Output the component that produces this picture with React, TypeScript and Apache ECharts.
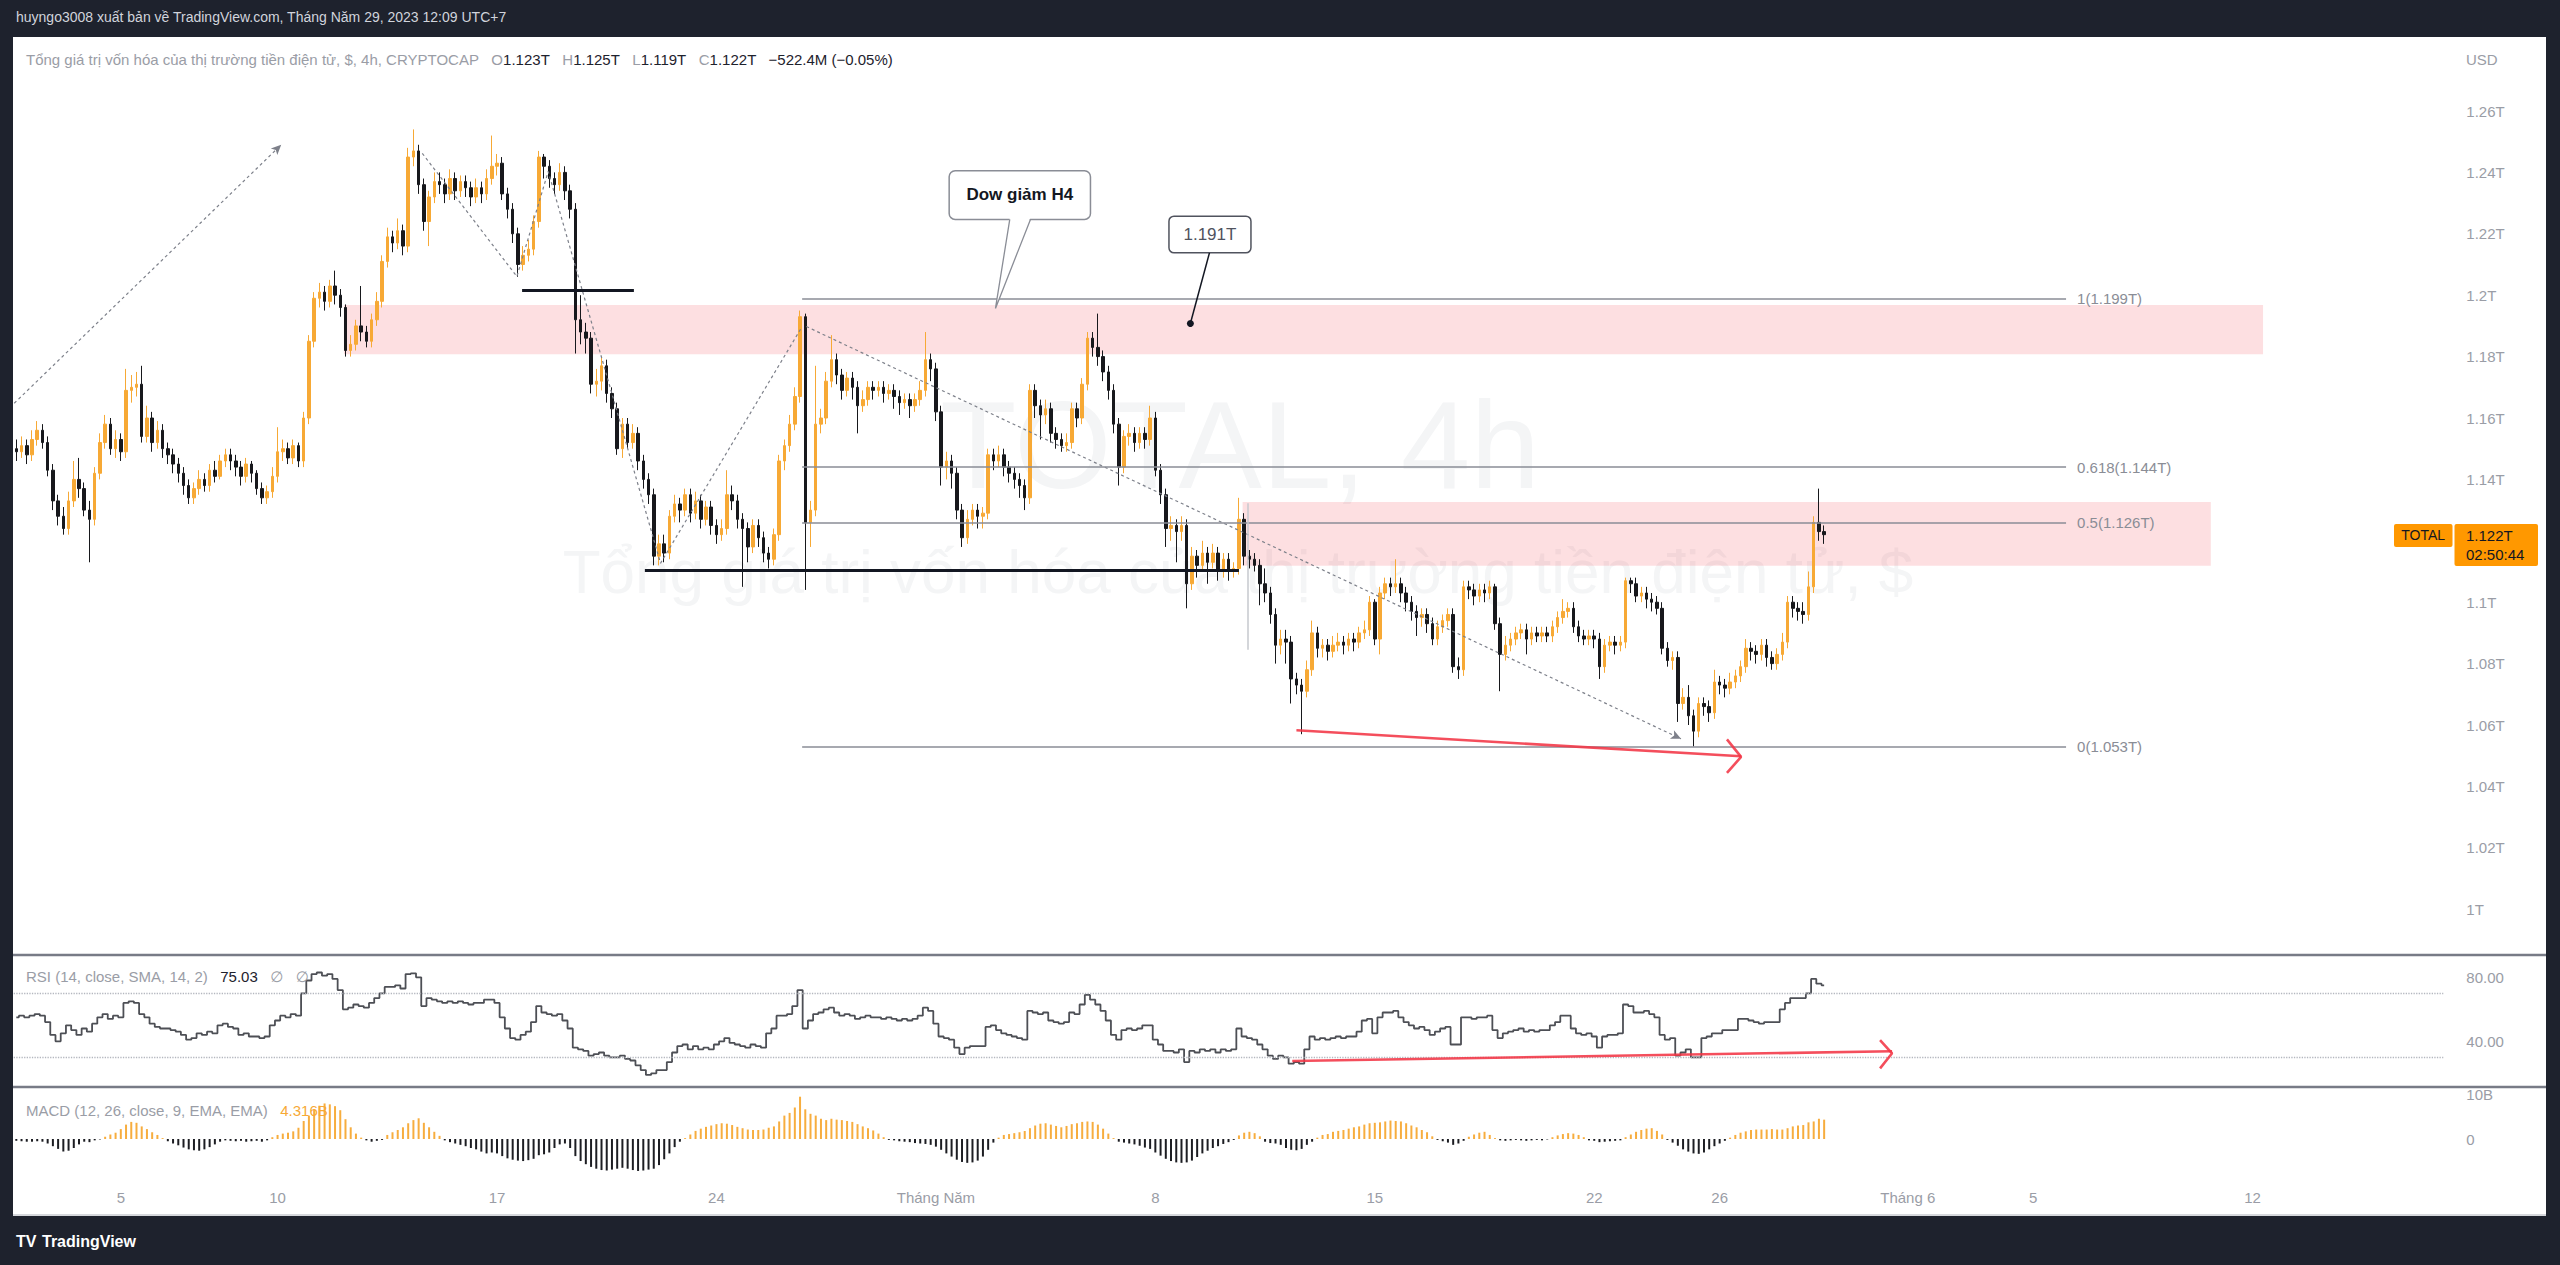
import React, { useEffect, useRef } from "react";
import * as echarts from "echarts";

const FONT = '"Liberation Sans", Arial, "DejaVu Sans", sans-serif';
const UP = "#f7a935";
const DOWN = "#17181c";
const GRAY_TEXT = "#9a9da6";
const DARK_TEXT = "#1e222d";
const FRAME = "#1e222d";

// ---------------- price data (in billions USD), 4h candles from 2023-04-01 16:00 UTC+7
const OPEN_0 = 1150;
const CLOSE = [
  1149,1151,1148,1153,1156,1152,1143,1133,1128,1124,
  1133,1140,1137,1130,1127,1142,1152,1158,1150,1153,
  1149,1169,1170,1171,1154,1160,1152,1156,1150,1148,
  1145,1142,1138,1134,1137,1140,1138,1143,1141,1146,
  1148,1146,1144,1141,1145,1142,1137,1134,1136,1141,
  1149,1150,1147,1151,1146,1160,1185,1199,1201,1198,
  1203,1200,1196,1182,1184,1190,1188,1185,1192,1198,
  1211,1219,1217,1221,1216,1245,1247,1236,1224,1232,
  1237,1236,1233,1238,1234,1237,1235,1232,1235,1233,
  1238,1242,1243,1233,1228,1220,1210,1213,1215,1224,
  1245,1242,1238,1236,1240,1234,1228,1192,1188,1186,
  1171,1172,1177,1168,1163,1150,1158,1152,1155,1146,
  1140,1135,1115,1119,1116,1128,1132,1130,1135,1129,
  1133,1127,1131,1125,1122,1124,1135,1133,1127,1124,
  1118,1125,1121,1116,1114,1122,1146,1151,1158,1167,
  1193,1126,1130,1158,1160,1172,1179,1174,1169,1173,
  1170,1164,1166,1170,1169,1170,1168,1169,1167,1165,
  1166,1164,1166,1169,1179,1176,1162,1144,1146,1142,
  1130,1121,1127,1130,1128,1129,1148,1146,1148,1144,
  1142,1140,1138,1134,1169,1164,1161,1163,1155,1153,
  1151,1152,1163,1160,1171,1186,1183,1180,1175,1169,
  1158,1144,1154,1155,1152,1155,1153,1160,1143,1135,
  1124,1125,1123,1125,1106,1115,1112,1116,1113,1116,
  1110,1114,1110,1111,1127,1115,1114,1112,1106,1103,
  1096,1086,1088,1087,1075,1073,1071,1078,1090,1085,
  1086,1084,1086,1087,1086,1088,1087,1090,1091,1100,
  1088,1103,1106,1105,1106,1103,1100,1097,1095,1096,
  1093,1088,1092,1094,1096,1079,1078,1105,1104,1102,
  1104,1103,1105,1093,1083,1086,1088,1090,1091,1088,
  1090,1089,1090,1089,1092,1095,1097,1098,1092,1089,
  1088,1089,1088,1079,1086,1087,1086,1087,1107,1106,
  1102,1103,1101,1100,1098,1085,1081,1082,1067,1069,
  1063,1058,1067,1066,1064,1074,1073,1072,1074,1076,
  1079,1085,1084,1083,1086,1082,1080,1083,1087,1100,
  1098,1097,1096,1105,1126,1123,1122,
];
const LOW = [
  1146,1147,1145,1146,1151,1150,1141,1130,1125,1122,
  1122,1131,1134,1128,1113,1125,1140,1150,1148,1147,
  1146,1147,1165,1167,1152,1152,1149,1150,1147,1145,
  1142,1139,1135,1132,1132,1135,1136,1136,1139,1140,
  1144,1143,1141,1138,1139,1139,1135,1132,1132,1134,
  1139,1146,1145,1145,1144,1144,1158,1183,1196,1195,
  1196,1197,1193,1180,1180,1182,1185,1183,1183,1190,
  1196,1209,1214,1215,1213,1214,1242,1233,1221,1216,
  1230,1233,1230,1231,1231,1232,1232,1229,1230,1230,
  1231,1236,1239,1231,1225,1217,1206,1208,1211,1213,
  1222,1238,1235,1233,1234,1231,1225,1181,1184,1181,
  1168,1167,1169,1165,1160,1148,1147,1150,1150,1143,
  1137,1132,1112,1112,1113,1114,1126,1126,1128,1126,
  1127,1124,1125,1122,1119,1120,1122,1130,1124,1105,
  1113,1116,1118,1113,1111,1112,1120,1143,1149,1156,
  1165,1104,1118,1128,1155,1158,1170,1171,1166,1167,
  1166,1155,1162,1164,1166,1167,1165,1166,1163,1161,
  1163,1160,1162,1164,1167,1172,1159,1138,1140,1137,
  1127,1118,1119,1125,1124,1124,1127,1143,1144,1141,
  1139,1137,1134,1130,1132,1160,1153,1158,1152,1150,
  1149,1149,1150,1157,1158,1169,1180,1177,1172,1166,
  1155,1138,1142,1151,1149,1150,1150,1151,1141,1132,
  1118,1120,1113,1120,1098,1104,1108,1110,1106,1111,
  1107,1108,1107,1108,1109,1112,1111,1110,1099,1100,
  1093,1080,1083,1080,1067,1070,1057,1069,1076,1082,
  1082,1081,1082,1084,1083,1084,1084,1085,1088,1089,
  1086,1083,1101,1102,1103,1100,1097,1094,1089,1092,
  1090,1086,1086,1090,1092,1077,1075,1076,1101,1099,
  1100,1100,1101,1091,1071,1081,1084,1086,1088,1083,
  1086,1087,1087,1087,1087,1090,1093,1095,1090,1087,
  1086,1086,1085,1075,1077,1084,1083,1084,1085,1103,
  1100,1100,1098,1097,1096,1083,1079,1078,1061,1065,
  1060,1053,1056,1063,1061,1062,1070,1069,1070,1072,
  1074,1077,1081,1080,1081,1079,1078,1078,1081,1085,
  1095,1094,1093,1094,1103,1120,1119,
];
const HIGH = [
  1153,1154,1153,1156,1159,1158,1154,1145,1135,1131,
  1136,1146,1147,1139,1133,1144,1155,1161,1160,1156,
  1155,1176,1174,1175,1177,1164,1162,1159,1158,1152,
  1150,1147,1144,1140,1139,1143,1142,1145,1146,1148,
  1150,1150,1148,1146,1147,1146,1143,1139,1138,1144,
  1157,1153,1152,1153,1152,1162,1187,1201,1204,1203,
  1205,1208,1202,1197,1187,1192,1203,1190,1194,1201,
  1213,1222,1221,1225,1223,1248,1254,1249,1238,1234,
  1240,1240,1238,1241,1240,1239,1239,1237,1238,1237,
  1241,1252,1246,1245,1235,1230,1222,1216,1218,1226,
  1247,1246,1244,1240,1243,1242,1236,1230,1200,1191,
  1188,1176,1180,1179,1170,1165,1160,1160,1158,1157,
  1148,1142,1137,1122,1122,1130,1135,1134,1137,1137,
  1136,1135,1133,1133,1127,1127,1143,1138,1135,1129,
  1126,1127,1127,1123,1118,1124,1148,1153,1161,1170,
  1195,1194,1133,1177,1163,1175,1187,1181,1176,1175,
  1175,1172,1169,1172,1172,1172,1172,1171,1171,1169,
  1168,1168,1168,1172,1188,1181,1178,1164,1149,1148,
  1144,1132,1130,1132,1132,1131,1150,1150,1151,1150,
  1146,1144,1142,1140,1171,1171,1166,1166,1165,1157,
  1155,1155,1165,1165,1173,1188,1188,1194,1182,1177,
  1171,1160,1156,1158,1157,1157,1157,1164,1162,1145,
  1137,1128,1127,1128,1127,1118,1117,1120,1118,1119,
  1118,1116,1116,1113,1134,1129,1117,1116,1114,1111,
  1105,1098,1091,1091,1089,1077,1075,1081,1094,1092,
  1088,1088,1089,1090,1089,1090,1090,1092,1094,1102,
  1101,1105,1108,1108,1114,1108,1105,1102,1099,1098,
  1098,1095,1094,1096,1098,1098,1082,1107,1107,1106,
  1106,1106,1107,1106,1095,1089,1090,1092,1093,1093,
  1092,1092,1092,1092,1094,1097,1101,1100,1100,1094,
  1091,1091,1091,1090,1088,1089,1089,1089,1108,1108,
  1108,1105,1105,1103,1102,1100,1087,1084,1084,1072,
  1073,1065,1069,1069,1068,1078,1076,1075,1077,1078,
  1081,1088,1087,1086,1088,1088,1084,1085,1090,1102,
  1102,1100,1100,1110,1128,1137,1125,
];
const RSI = [
  55,56,55,56,57,56,52,44,40,45,
  50,47,44,48,46,51,55,57,54,56,
  55,64,65,64,57,55,51,49,48,48,
  47,46,44,41,42,45,44,46,45,50,
  51,49,48,44,45,43,43,42,43,50,
  53,56,55,57,56,70,78,82,83,81,
  82,79,72,60,61,63,62,61,64,67,
  70,74,74,75,73,82,82.5,80,62,67,
  66,65,64,65,64,65,64,63,64,64,
  66,66,64,55,48,42,41,44,46,52,
  62,58,57,56,57,53,48,36,35,34,
  31,32,33,31,30,30,31,29,28,25,
  22,19,20,22,22,27,33,37,38,35,
  37,35,36,35,38,40,42,39,38,37,
  36,38,37,36,45,48,56,56,57,62,
  72,48,53,57,58,60,61,58,56,57,
  56,54,55,56,55,55,54,55,54,53,
  54,53,54,56,61,59,51,43,42,41,
  36,32,36,37,37,37,49,50,47,45,
  44,43,42,41,59,58,57,58,53,52,
  51,52,58,57,63,69,66,63,59,53,
  44,41,47,48,47,48,50,50,41,38,
  34,34,33,35,27,34,33,35,34,35,
  33,35,34,35,48,43,42,41,38,35,
  31,29,31,30,26,27,26,35,43,41,
  42,41,42,43,42,43,43,46,53,54,
  45,55,58,58,59,55,52,50,48,49,
  47,44,46,48,49,38,38,55,55,54,
  55,55,56,47,42,45,46,47,48,46,
  47,46,47,47,50,52,56,56,48,45,
  44,45,43,36,43,44,44,45,63,62,
  58,58,59,57,55,44,41,42,31,33,
  35,30,30,42,43,45,45,47,47,47,
  54,54,53,52,51,52,52,52,60,64,
  67,67,67,70,79,76,75,
];
const MACD_HIST = [
  -0.4,-0.5,-0.6,-0.6,-0.5,-0.6,-1.0,-1.6,-2.2,-2.8,
  -2.6,-2.0,-1.2,-0.6,-0.7,-0.3,-0.1,0.5,1.0,1.4,
  2.2,3.2,3.8,3.6,2.8,2.2,1.5,0.9,0.2,-0.5,
  -1.0,-1.4,-1.9,-2.3,-2.5,-2.6,-2.3,-1.8,-1.2,-0.6,
  -0.3,-0.4,-0.5,-0.4,-0.6,-0.5,-0.4,-0.6,-0.3,0.4,
  0.9,1.2,1.4,1.7,2.5,4.0,5.2,6.6,7.4,7.9,
  7.7,7.3,6.4,4.4,2.6,1.2,0.3,-0.3,-0.6,-0.4,
  -0.2,0.9,1.5,2.0,2.6,3.5,4.2,4.6,3.6,2.6,
  1.6,0.7,-0.3,-0.7,-1.0,-1.3,-1.6,-2.0,-2.3,-2.8,
  -3.2,-3.0,-3.2,-3.8,-4.3,-4.6,-4.8,-4.9,-4.7,-4.4,
  -3.6,-3.4,-3.0,-2.0,-1.2,-1.0,-2.0,-3.8,-4.9,-5.6,
  -6.2,-6.6,-6.9,-7.0,-6.8,-6.6,-6.4,-6.6,-6.9,-7.1,
  -7.0,-6.8,-6.6,-5.8,-4.5,-3.2,-1.8,-0.6,0.2,1.0,
  1.8,2.3,2.7,3.0,3.3,3.5,3.4,3.1,2.7,2.4,
  2.1,2.0,2.0,2.1,2.5,2.8,3.9,5.2,5.8,7.0,
  9.4,6.6,5.6,5.2,4.5,4.2,4.5,4.3,4.2,4.0,
  3.8,3.3,2.8,2.4,1.9,1.2,0.4,-0.2,-0.3,-0.5,
  -0.6,-0.7,-0.9,-1.0,-1.1,-1.3,-1.7,-2.4,-3.2,-3.9,
  -4.6,-5.1,-5.3,-5.2,-4.8,-3.9,-2.4,-0.8,0.3,0.9,
  1.1,1.3,1.5,1.8,2.4,3.0,3.4,3.5,3.2,2.9,
  2.6,2.9,3.3,3.5,3.8,3.9,3.8,3.2,2.3,1.2,
  0.2,-0.6,-0.8,-1.0,-1.2,-1.5,-1.9,-2.2,-3.0,-3.7,
  -4.4,-4.9,-5.2,-5.3,-5.2,-4.8,-4.0,-3.2,-2.6,-2.0,
  -1.6,-1.1,-0.7,-0.2,0.8,1.4,1.6,1.3,0.6,-0.6,
  -0.9,-1.0,-1.3,-2.0,-2.4,-2.5,-2.2,-1.3,-0.6,0.3,
  0.9,1.1,1.6,1.8,2.0,2.3,2.6,2.8,3.2,3.5,
  3.6,3.7,3.9,4.1,4.0,3.9,3.5,3.0,2.6,2.0,
  1.5,0.6,-0.2,-0.5,-0.8,-1.3,-1.0,-0.4,0.5,1.0,
  1.4,1.6,0.9,0.2,-0.3,-0.4,-0.3,-0.2,-0.3,-0.4,
  -0.3,-0.2,-0.3,-0.1,0.4,0.8,1.1,1.3,1.2,0.9,
  0.4,-0.3,-0.4,-0.7,-0.6,-0.5,-0.4,-0.3,0.4,1.0,
  1.6,2.0,2.3,2.4,1.8,1.0,-0.2,-0.8,-1.5,-2.3,
  -2.8,-3.2,-3.3,-3.0,-2.3,-1.6,-1.0,-0.4,0.3,0.9,
  1.4,1.7,2.0,2.1,2.1,2.1,2.2,2.1,2.1,2.4,
  2.8,3.0,3.1,3.7,3.9,4.5,4.3,
];

// ---------------- time axis
const START_TIME = "2023-04-01T16:00:00+07:00";
const BAR_MS = 4 * 3600 * 1000;
const N_SLOTS = 465;
const TIME_TICKS = [
  ["2023-04-05", "5"], ["2023-04-10", "10"], ["2023-04-17", "17"], ["2023-04-24", "24"],
  ["2023-05-01", "Tháng Năm"], ["2023-05-08", "8"], ["2023-05-15", "15"], ["2023-05-22", "22"],
  ["2023-05-26", "26"], ["2023-06-01", "Tháng 6"], ["2023-06-05", "5"], ["2023-06-12", "12"],
];
// price axis labels shown (1.12T sits under the last-price tag, as in the reference)
const PRICE_LABELS = [1000, 1020, 1040, 1060, 1080, 1100, 1140, 1160, 1180, 1200, 1220, 1240, 1260];
const RSI_LABELS = [80, 40];
const RSI_BANDS = [70, 30];
const MACD_LABELS = [[0, "0"], [10, "10B"]];

// ---------------- drawings (candle index, value)
const PINK_ZONES = [
  [62.7, 1196.8, 430, 1180.8],
  [234.7, 1132.6, 420, 1111.9],
];
const FIB_RANGE = [150.4, 392.3];
const FIB_LEVELS = [["1", 1199], ["0.618", 1144], ["0.5", 1126], ["0", 1053]];
const UP_TREND = [[-0.4, 1164.8], [50.7, 1249]];
const ZIGZAG = [[77.7, 1246.2], [95.8, 1206.1], [101.8, 1240.3], [123.3, 1112.7], [150.3, 1189.5]];
const DOW_LINE = [[151.2, 1189.8], [318.6, 1055.5]];
const SR_LINES = [[96.8, 118.2, 1201.7], [120.3, 234, 1110.5]];
const GRAY_MARK = [[235.7, 1132.2], [235.7, 1084.5]];
const PRICE_DIV = [[245, 1058.3], [330.1, 1049.8]];
const PRICE_DIV_HEAD = [[327.4, 1055.3], [330.1, 1049.6], [327.4, 1044.4]];
const RSI_DIV = [[244.2, 27.7], [359, 33.8]];
const RSI_DIV_HEAD = [[356.7, 40.8], [359, 32.5], [356.7, 23.1]];
const DOW_NOTE = { text: "Dow giảm H4", at: [187.4, 1195.7] };
const PRICE_NOTE = { text: "1.191T", at: [224.7, 1190.8] };
const LAST = { close: 1122, index: 346, label: "1.122T", timer: "02:50:44", name: "TOTAL" };

const GRID_LEFT = 13.7;
const GRID_W = 2429.6;

function buildOption() {
  const t0 = Date.parse(START_TIME);
  const tickMap = new Map();
  TIME_TICKS.forEach(([d, txt]) => {
    const idx = Math.round((Date.parse(d + "T00:00:00+07:00") - t0) / BAR_MS);
    tickMap.set(idx, txt);
  });
  const cats = Array.from({ length: N_SLOTS }, (_, i) => String(i));
  const candles = CLOSE.map((c, i) => [i === 0 ? OPEN_0 : CLOSE[i - 1], c, LOW[i], HIGH[i]]);

  const dashed = { color: "#7d808a", width: 1.2, type: [3, 3] };
  const fibStyle = { color: "#8a8d96", width: 1.6, type: "solid" };
  const srStyle = { color: "#131722", width: 3, type: "solid" };
  const grayStyle = { color: "#c6c8ce", width: 1.5, type: "solid" };
  const seg = (a, b, style, end = "none") => [
    { coord: a, symbol: "none", lineStyle: style },
    { coord: b, symbol: end, symbolSize: [7, 10], lineStyle: style },
  ];
  const red = "rgba(242,54,69,0.88)";

  const axisText = { color: GRAY_TEXT, fontSize: 15, fontFamily: FONT };
  const hiddenCat = (g) => ({ type: "category", gridIndex: g, data: cats, boundaryGap: true, show: false });
  const hiddenVal = (g) => ({ type: "value", gridIndex: g, min: -0.5, max: N_SLOTS - 0.5, show: false });
  const yBase = {
    type: "value", position: "right", splitLine: { show: false },
    axisLine: { show: false }, axisTick: { show: false },
  };

  return {
    animation: false,
    backgroundColor: "#ffffff",
    grid: [
      { left: GRID_LEFT, width: GRID_W, top: 18.9, height: 951.7, containLabel: false, outerBoundsMode: "none" },
      { left: GRID_LEFT, width: GRID_W, top: 945.3, height: 144, containLabel: false, outerBoundsMode: "none" },
      { left: GRID_LEFT, width: GRID_W, top: 1085, height: 99, containLabel: false, outerBoundsMode: "none" },
    ],
    xAxis: [
      hiddenCat(0),
      hiddenCat(1),
      {
        type: "category", gridIndex: 2, data: cats, boundaryGap: true,
        axisLine: { show: false }, axisTick: { show: false }, splitLine: { show: false },
        axisLabel: {
          ...axisText, margin: 6, hideOverlap: false,
          interval: (i) => tickMap.has(i),
          formatter: (v, i) => tickMap.get(i) || "",
        },
      },
      hiddenVal(0),
      hiddenVal(1),
    ],
    yAxis: [
      {
        ...yBase, gridIndex: 0, min: 980, max: 1290, interval: 20,
        axisLabel: {
          ...axisText, margin: 23, align: "left",
          formatter: (v) => (PRICE_LABELS.includes(v) ? v / 1000 + "T" : ""),
        },
      },
      {
        ...yBase, gridIndex: 1, min: 10, max: 100, interval: 10,
        axisLabel: {
          ...axisText, margin: 23, align: "left",
          formatter: (v) => (RSI_LABELS.includes(v) ? v.toFixed(2) : ""),
        },
      },
      {
        ...yBase, gridIndex: 2, min: -10, max: 12, interval: 10,
        axisLabel: {
          ...axisText, margin: 23, align: "left",
          formatter: (v) => {
            const f = MACD_LABELS.find((m) => m[0] === v);
            return f ? f[1] : "";
          },
        },
      },
    ],
    series: [
      {
        type: "candlestick", xAxisIndex: 0, yAxisIndex: 0, data: candles, barWidth: 3, z: 3, silent: true,
        itemStyle: { color: UP, color0: DOWN, borderColor: UP, borderColor0: DOWN, borderWidth: 1 },
      },
      {
        type: "line", xAxisIndex: 3, yAxisIndex: 0, data: ZIGZAG, symbol: "none", silent: true, z: 4,
        lineStyle: dashed,
        markArea: {
          silent: true, z: 1,
          itemStyle: { color: "rgba(242,54,69,0.16)" },
          data: PINK_ZONES.map(([x1, y1, x2, y2]) => [{ coord: [x1, y1] }, { coord: [x2, y2] }]),
        },
        markLine: {
          silent: true, symbol: ["none", "none"], label: { show: false }, z: 5,
          data: [
            seg(UP_TREND[0], UP_TREND[1], dashed, "arrow"),
            seg(DOW_LINE[0], DOW_LINE[1], dashed, "arrow"),
            ...FIB_LEVELS.map(([, v]) => seg([FIB_RANGE[0], v], [FIB_RANGE[1], v], fibStyle)),
            ...SR_LINES.map(([a, b, v]) => seg([a, v], [b, v], srStyle)),
            seg(GRAY_MARK[0], GRAY_MARK[1], grayStyle),
          ],
        },
      },
      {
        type: "line", xAxisIndex: 3, yAxisIndex: 0, data: PRICE_DIV, symbol: "none", silent: true, z: 6,
        lineStyle: { color: red, width: 2.6 },
      },
      {
        type: "line", xAxisIndex: 3, yAxisIndex: 0, data: PRICE_DIV_HEAD, symbol: "none", silent: true, z: 6,
        lineStyle: { color: red, width: 2.6 },
      },
      {
        type: "line", xAxisIndex: 1, yAxisIndex: 1, data: RSI, symbol: "none", silent: true, z: 3,
        step: "middle",
        lineStyle: { color: "#4d4f55", width: 1.8 },
        markLine: {
          silent: true, symbol: ["none", "none"], label: { show: false },
          lineStyle: { color: "#b4b7bf", type: "dotted", width: 1.3 },
          data: RSI_BANDS.map((v) => ({ yAxis: v })),
        },
      },
      {
        type: "line", xAxisIndex: 4, yAxisIndex: 1, data: RSI_DIV, symbol: "none", silent: true, z: 6,
        lineStyle: { color: red, width: 2.6 },
      },
      {
        type: "line", xAxisIndex: 4, yAxisIndex: 1, data: RSI_DIV_HEAD, symbol: "none", silent: true, z: 6,
        lineStyle: { color: red, width: 2.6 },
      },
      {
        type: "bar", xAxisIndex: 2, yAxisIndex: 2, barWidth: 2, silent: true, z: 3,
        data: MACD_HIST.map((v) => ({ value: v, itemStyle: { color: v >= 0 ? "#f7ad3e" : "#1c1d22" } })),
      },
    ],
  };
}

function buildGraphics(chart) {
  const toPx = (p) => chart.convertToPixel({ seriesIndex: 1 }, p);
  const els = [];
  const txt = (x, y, text, o = {}) => ({
    type: "text", x, y, z: o.z ?? 100, silent: true,
    style: {
      text, fill: o.fill || GRAY_TEXT, fontSize: o.size || 15, fontFamily: FONT,
      fontWeight: o.weight || "normal", align: o.align || "left", verticalAlign: "middle",
    },
  });

  // watermark
  els.push(txt(1240, 444, "TOTAL, 4h", { fill: "#f4f5f6", size: 125, align: "center", z: 0 }));
  els.push(txt(1238, 571, "Tổng giá trị vốn hóa của thị trường tiền điện tử, $", { fill: "#f4f5f6", size: 62, align: "center", z: 0 }));

  // frame
  els.push({ type: "rect", z: 100, silent: true, shape: { x: 0, y: 0, width: 2560, height: 37 }, style: { fill: FRAME } });
  els.push({ type: "rect", z: 100, silent: true, shape: { x: 0, y: 0, width: 13, height: 1265 }, style: { fill: FRAME } });
  els.push({ type: "rect", z: 100, silent: true, shape: { x: 2546, y: 0, width: 14, height: 1265 }, style: { fill: FRAME } });
  els.push({ type: "rect", z: 100, silent: true, shape: { x: 0, y: 1216, width: 2560, height: 49 }, style: { fill: FRAME } });
  els.push({ type: "line", z: 100, silent: true, shape: { x1: 13, y1: 1215, x2: 2546, y2: 1215 }, style: { stroke: "#c9cbd1", lineWidth: 1.5 } });
  [955, 1087].forEach((y) =>
    els.push({ type: "line", z: 100, silent: true, shape: { x1: 13, y1: y, x2: 2546, y2: y }, style: { stroke: "#787b86", lineWidth: 2.5 } })
  );

  els.push(txt(16, 17, "huyngo3008 xuất bản về TradingView.com, Tháng Năm 29, 2023 12:09 UTC+7", { fill: "#d1d4dc", size: 14 }));
  els.push(txt(16, 1241, "TV", { fill: "#ffffff", size: 16, weight: "bold" }));
  els.push(txt(42, 1241, "TradingView", { fill: "#ffffff", size: 16, weight: "bold" }));

  const rich = {
    g: { fill: GRAY_TEXT, fontSize: 15, fontFamily: FONT },
    d: { fill: DARK_TEXT, fontSize: 15, fontFamily: FONT },
    o: { fill: "#f7a935", fontSize: 15, fontFamily: FONT },
  };
  const richText = (x, y, text) => ({
    type: "text", x, y, z: 100, silent: true,
    style: { text, rich, fontSize: 15, fontFamily: FONT, verticalAlign: "middle", align: "left" },
  });
  els.push(richText(26, 59,
    "{g|Tổng giá trị vốn hóa của thị trường tiền điện tử, $, 4h, CRYPTOCAP   O}{d|1.123T}{g|   H}{d|1.125T}{g|   L}{d|1.119T}{g|   C}{d|1.122T   −522.4M (−0.05%)}"));
  els.push(richText(26, 976, "{g|RSI (14, close, SMA, 14, 2)}{d|   75.03}{g|   ∅   ∅}"));
  els.push(richText(26, 1110, "{g|MACD (12, 26, close, 9, EMA, EMA)}{o|   4.316B}"));
  els.push(txt(2466, 59, "USD", { fill: GRAY_TEXT }));

  // fib labels
  FIB_LEVELS.forEach(([r, v]) => {
    const p = toPx([FIB_RANGE[1], v]);
    els.push(txt(p[0] + 11, p[1], `${r}(${(v / 1000).toFixed(3)}T)`, { fill: "#8a8d96" }));
  });

  // callout "Dow giảm H4"
  const P = toPx(DOW_NOTE.at);
  els.push({
    type: "rect", z: 101, silent: true,
    shape: { x: P[0] - 46.3, y: P[1] - 137.6, width: 141.3, height: 48.6, r: 6 },
    style: { fill: "#ffffff", stroke: "#8a8d96", lineWidth: 1.5 },
  });
  els.push({
    type: "polygon", z: 102, silent: true,
    shape: { points: [[P[0] + 14.3, P[1] - 91], [P[0], P[1]], [P[0] + 35, P[1] - 91]] },
    style: { fill: "#ffffff" },
  });
  els.push({
    type: "polyline", z: 103, silent: true,
    shape: { points: [[P[0] + 14.3, P[1] - 89], [P[0], P[1]], [P[0] + 35, P[1] - 89]] },
    style: { stroke: "#8a8d96", lineWidth: 1.3, fill: null },
  });
  els.push(txt(P[0] + 24.3, P[1] - 114, DOW_NOTE.text, { fill: "#131722", size: 17, weight: "bold", align: "center", z: 104 }));

  // callout "1.191T"
  const D = toPx(PRICE_NOTE.at);
  els.push({
    type: "rect", z: 101, silent: true,
    shape: { x: D[0] - 21.4, y: D[1] - 107.3, width: 82, height: 36.7, r: 5 },
    style: { fill: "#ffffff", stroke: "#50535e", lineWidth: 1.5 },
  });
  els.push(txt(D[0] + 19.6, D[1] - 89, PRICE_NOTE.text, { fill: "#50535e", size: 17, align: "center", z: 104 }));
  els.push({
    type: "line", z: 101, silent: true,
    shape: { x1: D[0] + 19.1, y1: D[1] - 70.6, x2: D[0], y2: D[1] },
    style: { stroke: "#131722", lineWidth: 1.5 },
  });
  els.push({ type: "circle", z: 102, silent: true, shape: { cx: D[0], cy: D[1], r: 3.5 }, style: { fill: "#131722" } });

  // last price label
  const yC = toPx([LAST.index, LAST.close])[1];
  els.push({ type: "rect", z: 105, silent: true, shape: { x: 2394, y: yC - 10.7, width: 58.5, height: 23, r: 2 }, style: { fill: "#ff9800" } });
  els.push(txt(2423.2, yC + 0.8, LAST.name, { fill: "#131722", size: 14, align: "center", z: 106 }));
  els.push({ type: "rect", z: 105, silent: true, shape: { x: 2454.5, y: yC - 10.7, width: 83.5, height: 42, r: 2 }, style: { fill: "#ff9800" } });
  els.push(txt(2466, yC + 0.5, LAST.label, { fill: "#131722", size: 15, z: 106 }));
  els.push(txt(2466, yC + 20, LAST.timer, { fill: "#131722", size: 15, z: 106 }));

  return els;
}

export default function App() {
  const ref = useRef(null);
  useEffect(() => {
    const el = ref.current;
    if (!el) return;
    const chart = echarts.init(el, null, { renderer: "svg" });
    chart.setOption(buildOption());
    chart.setOption({ graphic: buildGraphics(chart) });
    return () => chart.dispose();
  }, []);
  return <div ref={ref} style={{ position: "fixed", left: 0, top: 0, width: 2560, height: 1265 }} />;
}
